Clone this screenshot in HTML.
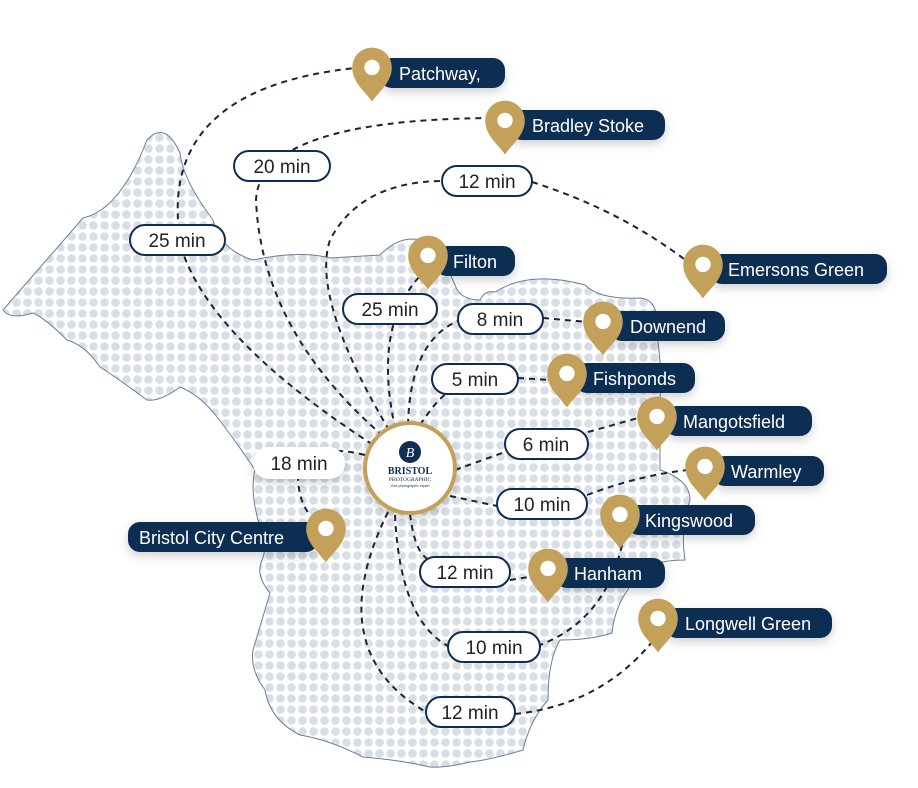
<!DOCTYPE html>
<html><head><meta charset="utf-8"><style>
html,body{margin:0;padding:0;background:#fff;width:918px;height:788px;overflow:hidden}
svg{display:block}
.lbl{font-family:"Liberation Sans",sans-serif;font-size:18px;fill:#fff}
.tm{font-family:"Liberation Sans",sans-serif;font-size:19px;fill:#222}
</style></head><body>
<svg width="918" height="788" viewBox="0 0 918 788" xmlns="http://www.w3.org/2000/svg">
<defs>
<pattern id="dots" width="11" height="11" patternUnits="userSpaceOnUse">
<circle cx="5.5" cy="5.5" r="4.3" fill="#d8dee6"/>
</pattern>
<filter id="sh" x="-30%" y="-30%" width="160%" height="160%"><feDropShadow dx="0" dy="4" stdDeviation="5" flood-color="#000" flood-opacity="0.18"/></filter>
<g id="pin"><g transform="scale(1.1)"><path d="M0,25 C-6,16 -18,8 -18,-6 A18,18 0 0 1 18,-6 C18,8 6,16 0,25 Z" fill="#c4a15a"/><circle cx="0" cy="-6" r="7" fill="#fff"/></g></g>
</defs>
<path d="M3,310 L83,218 Q120,210 147,140 Q165,120 180,153 Q183,180 213,220 Q220,250 253,260 Q300,250 330,258 L380,255 Q400,235 420,240 Q440,250 455,285 Q460,300 480,300 Q485,290 495,292 Q530,270 585,285 Q600,300 640,298 Q660,300 656,330 Q662,360 660,400 L660,470 Q690,480 690,500 Q680,530 685,560 Q650,560 640,575 Q615,600 612,633 Q590,640 560,640 Q548,660 548,700 Q530,720 523,750 Q490,760 470,762 Q445,768 430,767 Q400,760 363,757 Q330,740 300,735 Q270,720 265,690 Q250,670 253,650 Q262,620 270,593 Q255,575 262,560 Q270,540 258,520 Q250,490 255,470 Q235,440 217,417 Q200,395 180,387 Q160,402 147,400 Q120,380 100,367 Q85,345 67,340 Q45,318 33,313 Q10,320 3,310 Z" fill="url(#dots)" stroke="#6a7f99" stroke-width="1"/>
<g fill="none" stroke="#1a2436" stroke-width="2" stroke-dasharray="6,5">
<path d="M410,468 Q215,350 182,250 Q150,90 355,68"/>
<path d="M400,450 Q262,340 256,200 Q260,120 490,118"/>
<path d="M395,440 Q310,300 330,240 Q360,182 442,181"/>
<path d="M532,182 Q620,210 688,262"/>
<path d="M398,440 Q370,330 420,276"/>
<path d="M408,425 Q410,340 460,320"/>
<path d="M543,318 L588,322"/>
<path d="M420,425 Q440,395 450,392"/>
<path d="M518,378 L550,380"/>
<path d="M455,470 L505,452"/>
<path d="M588,432 L645,416"/>
<path d="M587,495 Q640,475 688,470"/>
<path d="M450,496 L497,506"/>
<path d="M622,545 Q605,620 540,645"/>
<path d="M410,514 Q415,555 430,560"/>
<path d="M510,580 L535,576"/>
<path d="M395,515 Q400,620 448,646"/>
<path d="M388,512 Q320,650 426,712"/>
<path d="M515,714 Q600,705 652,642"/>
<path d="M365,455 Q305,440 298,480 Q300,510 318,522"/>
</g>
<g filter="url(#sh)"><circle cx="410" cy="468" r="45" fill="#fff" stroke="#c4a15a" stroke-width="4"/></g>
<circle cx="410" cy="452" r="11" fill="#102d52"/>
<text x="410" y="457" text-anchor="middle" font-family="Liberation Serif,serif" font-style="italic" font-size="14" fill="#fff">B</text>
<text x="410" y="474" text-anchor="middle" font-family="Liberation Serif,serif" font-weight="bold" font-size="10" fill="#102d52">BRISTOL</text>
<text x="410" y="481" text-anchor="middle" font-family="Liberation Serif,serif" font-size="5.5" fill="#102d52">PHOTOGRAPHIC</text>
<text x="410" y="487" text-anchor="middle" font-family="Liberation Sans,sans-serif" font-size="3.5" fill="#102d52">Your photographic expert</text>
<g fill="#fff" stroke="#0e2d52" stroke-width="2">
<rect x="234" y="151" width="96" height="30" rx="15"/>
<rect x="442" y="166" width="90" height="30" rx="15"/>
<rect x="130" y="225" width="95" height="30" rx="15"/>
<rect x="343" y="294" width="94" height="30" rx="15"/>
<rect x="458" y="304" width="85" height="30" rx="15"/>
<rect x="432" y="364" width="86" height="30" rx="15"/>
<rect x="505" y="429" width="83" height="30" rx="15"/>
<rect x="497" y="489" width="90" height="30" rx="15"/>
<rect x="420" y="557" width="90" height="30" rx="15"/>
<rect x="448" y="632" width="92" height="30" rx="15"/>
<rect x="426" y="697" width="89" height="30" rx="15"/>
</g>
<rect x="253" y="447" width="92" height="32" rx="16" fill="#fff" filter="url(#sh)"/>
<g text-anchor="middle">
<text x="282" y="173" class="tm">20 min</text>
<text x="487" y="188" class="tm">12 min</text>
<text x="177" y="247" class="tm">25 min</text>
<text x="390" y="316" class="tm">25 min</text>
<text x="500" y="326" class="tm">8 min</text>
<text x="475" y="386" class="tm">5 min</text>
<text x="299" y="470" class="tm">18 min</text>
<text x="546" y="451" class="tm">6 min</text>
<text x="542" y="511" class="tm">10 min</text>
<text x="465" y="579" class="tm">12 min</text>
<text x="494" y="654" class="tm">10 min</text>
<text x="470" y="719" class="tm">12 min</text>
</g>
<g fill="#0e2d52" filter="url(#sh)">
<rect x="380" y="58" width="125" height="30" rx="12"/>
<rect x="510" y="110" width="155" height="30" rx="12"/>
<rect x="710" y="254" width="177" height="30" rx="12"/>
<rect x="435" y="246" width="80" height="30" rx="12"/>
<rect x="610" y="311" width="115" height="30" rx="12"/>
<rect x="575" y="363" width="120" height="30" rx="12"/>
<rect x="665" y="406" width="147" height="30" rx="12"/>
<rect x="713" y="456" width="111" height="30" rx="12"/>
<rect x="627" y="505" width="128" height="30" rx="12"/>
<rect x="555" y="558" width="110" height="30" rx="12"/>
<rect x="665" y="608" width="167" height="30" rx="12"/>
<rect x="128" y="522" width="190" height="30" rx="12"/>
</g>
<g>
<text x="399" y="80" class="lbl">Patchway,</text>
<text x="532" y="132" class="lbl">Bradley Stoke</text>
<text x="728" y="276" class="lbl">Emersons Green</text>
<text x="453" y="268" class="lbl">Filton</text>
<text x="630" y="333" class="lbl">Downend</text>
<text x="593" y="385" class="lbl">Fishponds</text>
<text x="683" y="428" class="lbl">Mangotsfield</text>
<text x="731" y="478" class="lbl">Warmley</text>
<text x="645" y="527" class="lbl">Kingswood</text>
<text x="574" y="580" class="lbl">Hanham</text>
<text x="685" y="630" class="lbl">Longwell Green</text>
<text x="139" y="544" class="lbl">Bristol City Centre</text>
</g>
<use href="#pin" x="372" y="74"/>
<use href="#pin" x="505" y="127"/>
<use href="#pin" x="703" y="271"/>
<use href="#pin" x="428" y="262"/>
<use href="#pin" x="603" y="328"/>
<use href="#pin" x="567" y="380"/>
<use href="#pin" x="657" y="423"/>
<use href="#pin" x="705" y="473"/>
<use href="#pin" x="620" y="521"/>
<use href="#pin" x="548" y="575"/>
<use href="#pin" x="658" y="625"/>
<use href="#pin" x="326" y="535"/>
</svg>
</body></html>
